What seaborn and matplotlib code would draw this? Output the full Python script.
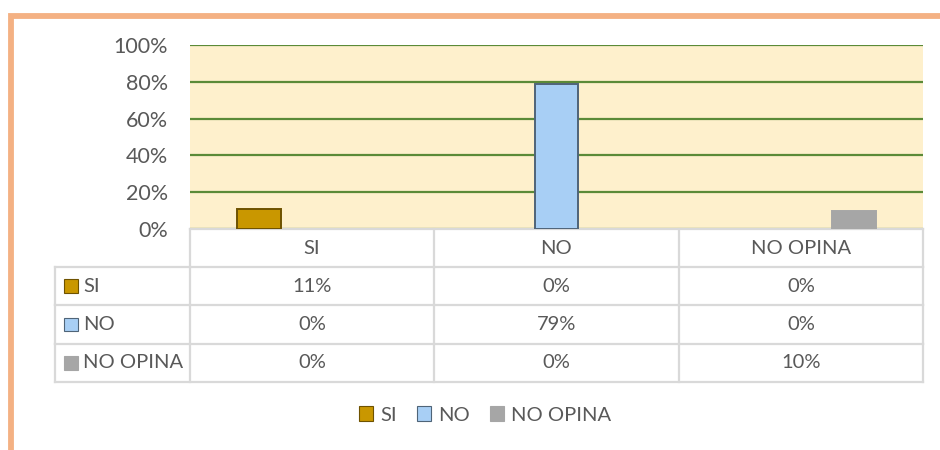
import numpy as np
import pandas as pd
import matplotlib
matplotlib.use('Agg')
import matplotlib.pyplot as plt
from matplotlib.patches import Rectangle, Patch
from matplotlib.lines import Line2D
import seaborn as sns

# data
categories = ['SI', 'NO', 'NO OPINA']
series = ['SI', 'NO', 'NO OPINA']
si_vals = [11, 0, 0]
no_vals = [0, 79, 0]
noopina_vals = [0, 0, 10]
yticks = [0, 20, 40, 60, 80, 100]

colors = {'SI': '#C99700', 'NO': '#A8CFF5', 'NO OPINA': '#A6A6A6'}
edges = {'SI': '#6E5200', 'NO': '#4F6478', 'NO OPINA': '#A6A6A6'}
txt = '#595959'

df = pd.DataFrame({
    'cat': categories * 3,
    'serie': [s for s in series for _ in categories],
    'val': si_vals + no_vals + noopina_vals,
})

plt.rcParams['font.family'] = ['Lato', 'DejaVu Sans']
fig = plt.figure(figsize=(9.4, 4.5), dpi=100)
ax = fig.add_axes([190/940, 1 - 229/450, 733/940, 184/450])
ax.set_facecolor('#FEF0CC')

sns.barplot(data=df, x='cat', y='val', hue='serie', order=categories,
            hue_order=series, palette=colors, saturation=1, width=0.65, gap=0.17,
            legend=False, ax=ax, zorder=3)

# style bars, hide the zero ones
for i, s in enumerate(series):
    for bar in ax.containers[i]:
        if bar.get_height() == 0:
            bar.set_visible(False)
        else:
            bar.set_edgecolor(edges[s])
            bar.set_linewidth(1.4)

ax.set_ylim(0, 100)
ax.set_xlim(-0.5, 2.5)
ax.set_yticks(yticks)
ax.set_yticklabels([f'{t}%' for t in yticks], color=txt, fontsize=15.5)
ax.tick_params(axis='y', length=0, pad=16)
ax.set_xticks([])
ax.set_xlabel('')
ax.set_ylabel('')
ax.grid(axis='y', color='#5B8A37', linewidth=1.6, zorder=1)
ax.set_axisbelow(True)
for sp in ['top', 'right', 'left']:
    ax.spines[sp].set_visible(False)
ax.spines['bottom'].set_color('#D9D9D9')
ax.spines['bottom'].set_linewidth(1.6)

# data table under the plot
tr = ax.get_xaxis_transform()
h = 38.2 / 184
left = -0.5 - 135 / 244.33
gc = '#D9D9D9'
lw = 1.6
cols = [-0.5, 0.5, 1.5, 2.5]

def hline(x0, x1, y):
    ax.add_line(Line2D([x0, x1], [y, y], transform=tr, color=gc, lw=lw, clip_on=False))

def vline(x, y0, y1):
    ax.add_line(Line2D([x, x], [y0, y1], transform=tr, color=gc, lw=lw, clip_on=False))

# header row
for c in cols:
    vline(c, 0, -h)
for j, cat in enumerate(categories):
    ax.text(j, -h / 2, cat, transform=tr, ha='center', va='center',
            color=txt, fontsize=14.5)
hline(left, 2.5, -h)

rows = [si_vals, no_vals, noopina_vals]
for r, (name, vals) in enumerate(zip(series, rows)):
    y0 = -h * (r + 1)
    y1 = -h * (r + 2)
    hline(left, 2.5, y1)
    for c in [left] + cols:
        vline(c, y0, y1)
    ym = (y0 + y1) / 2
    sq_w = 13.7 / 244.33
    sq_h = 13.7 / 184
    ax.add_patch(Rectangle((-1.0157, ym - sq_h / 2), sq_w, sq_h, transform=tr,
                           facecolor=colors[name], edgecolor=edges[name],
                           lw=0.8, clip_on=False))
    ax.text(-0.938, ym, name, transform=tr, ha='left', va='center',
            color=txt, fontsize=14.5)
    for j, v in enumerate(vals):
        ax.text(j, ym, f'{v}%', transform=tr, ha='center', va='center',
                color=txt, fontsize=14.5)

# legend
handles = [Patch(facecolor=colors[s], edgecolor=edges[s], lw=0.8) for s in series]
fig.legend(handles, series, loc='center', bbox_to_anchor=(485/940, 1 - 415/450),
           ncol=3, frameon=False, fontsize=14.5, handlelength=0.7, handleheight=0.7,
           handletextpad=0.35, columnspacing=1.0, labelcolor=txt)

# orange frame
fig.add_artist(Rectangle((10.5/940, -0.2), 1.2, 1 - 16/450 + 0.2, transform=fig.transFigure,
                         fill=False, edgecolor='#F4B183', lw=4.2))

fig.savefig('out.png', dpi=100)
